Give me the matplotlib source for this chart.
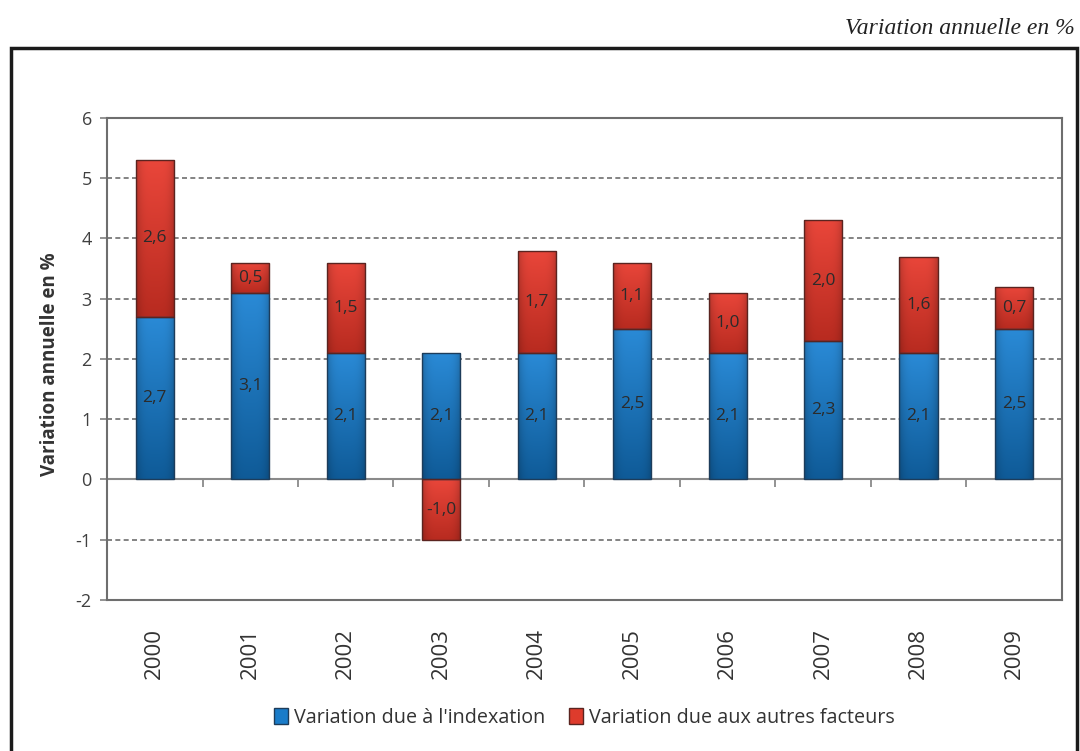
#!/usr/bin/env python3

import numpy as np
import matplotlib
matplotlib.use('Agg')
import matplotlib.pyplot as plt
from matplotlib.patches import Rectangle
from matplotlib.colors import to_rgb

years = ['2000', '2001', '2002', '2003', '2004', '2005', '2006', '2007', '2008', '2009']
indexation = [2.7, 3.1, 2.1, 2.1, 2.1, 2.5, 2.1, 2.3, 2.1, 2.5]
autres = [2.6, 0.5, 1.5, -1.0, 1.7, 1.1, 1.0, 2.0, 1.6, 0.7]

label_index = "Variation due à l'indexation"
label_autres = "Variation due aux autres facteurs"
y_title = 'Variation annuelle en %'
top_note = 'Variation annuelle en %'


def shade(ax, patch, top_col, bot_col):
    # vertical gradient with slightly darker sides, clipped to the bar
    x0, y0 = patch.get_x(), patch.get_y()
    w, h = patch.get_width(), patch.get_height()
    ys = np.linspace(0, 1, 60)[:, None]
    xs = np.linspace(-1, 1, 20)[None, :]
    t, b = np.array(to_rgb(top_col)), np.array(to_rgb(bot_col))
    img = t[None, None, :] * (1 - ys[..., None]) + b[None, None, :] * ys[..., None]
    side = 1 - 0.18 * np.abs(xs) ** 4
    img = img * side[..., None]
    ylo, yhi = min(y0, y0 + h), max(y0, y0 + h)
    im = ax.imshow(np.clip(img, 0, 1), extent=(x0, x0 + w, ylo, yhi),
                   origin='upper', aspect='auto', zorder=3, interpolation='bilinear')
    im.set_clip_path(patch)


def main():
    plt.rcParams['font.family'] = ['Open Sans', 'DejaVu Sans']

    fig = plt.figure(figsize=(10.8, 7.51), dpi=100)
    ax = fig.add_axes([0.0991, 0.2011, 0.884, 0.6418])

    x = np.arange(len(years))
    idx = np.array(indexation)
    aut = np.array(autres)
    # positive "autres" stack on top of indexation, negative ones hang below 0
    bottom_aut = np.where(aut >= 0, idx, 0)

    width = 0.4
    b1 = ax.bar(x, idx, width, color='#1a7cc9', edgecolor='#1d3c5a',
                linewidth=1.0, label=label_index, zorder=3)
    b2 = ax.bar(x, aut, width, bottom=bottom_aut, color='#de3b2c',
                edgecolor='#5a2420', linewidth=1.0, label=label_autres, zorder=3)

    for p in b1.patches:
        shade(ax, p, '#2a8ad6', '#0f5b98')
    for p in b2.patches:
        shade(ax, p, '#e9463a', '#b82b20')
    for p in list(b1.patches) + list(b2.patches):
        p.set_facecolor('none')
        p.set_zorder(3.5)

    fmt = lambda v: ('%.1f' % v).replace('.', ',')
    ax.bar_label(b1, labels=[fmt(v) for v in idx], label_type='center',
                 fontsize=12.5, color='#2b2b2b', zorder=4)
    ax.bar_label(b2, labels=[fmt(v) for v in aut], label_type='center',
                 fontsize=12.5, color='#2b2b2b', zorder=4)

    ax.set_xlim(-0.5, len(years) - 0.5)
    ax.set_ylim(-2, 6)
    ax.set_yticks(range(-2, 7))
    ax.set_yticklabels([str(v) for v in range(-2, 7)])
    ax.tick_params(axis='y', labelsize=13, colors='#404040', length=5,
                   width=1.2, color='#808080', pad=6)

    ax.set_xticks(x)
    ax.set_xticklabels(years, rotation=90, fontsize=16, color='#333333')
    ax.tick_params(axis='x', length=0, pad=20)

    # dashed grid lines
    for v in [-1, 1, 2, 3, 4, 5]:
        ax.axhline(v, color='#6e6e6e', linestyle=(0, (3, 2)), linewidth=1.2, zorder=1)

    # horizontal axis crossing at zero with ticks between categories
    sec = ax.secondary_xaxis(0.25)
    sec.set_xticks(np.arange(-0.5, len(years), 1.0))
    sec.set_xticklabels([])
    sec.tick_params(axis='x', direction='out', length=6, width=1.2, color='#808080')
    sec.spines['bottom'].set_color('#8a8a8a')
    sec.spines['bottom'].set_linewidth(1.5)

    for s in ax.spines.values():
        s.set_color('#6e6e6e')
        s.set_linewidth(1.5)

    ax.set_ylabel(y_title, fontsize=13.5, fontweight='bold', color='#333333')
    ax.yaxis.set_label_coords(-0.049, 0.49)

    leg = ax.legend(loc='center', bbox_to_anchor=(0.5, -0.245), ncol=2,
                    frameon=False, fontsize=14.2, handlelength=0.7, handleheight=0.9,
                    handletextpad=0.3, columnspacing=1.2, labelcolor='#333333')
    leg.legend_handles[0].set_facecolor('#1a7cc9')
    leg.legend_handles[1].set_facecolor('#de3b2c')

    # outer frame of the chart
    fig.patches.append(Rectangle((0.0105, -0.05), 0.987, 0.986, transform=fig.transFigure,
                                 fill=False, edgecolor='#1a1a1a', linewidth=2.5))

    fig.text(0.995, 0.962, top_note, ha='right', va='center', fontsize=17,
             style='italic', family='Liberation Serif', color='#222222')

    plt.savefig('out.png', dpi=100)


if __name__ == "__main__":
    main()
